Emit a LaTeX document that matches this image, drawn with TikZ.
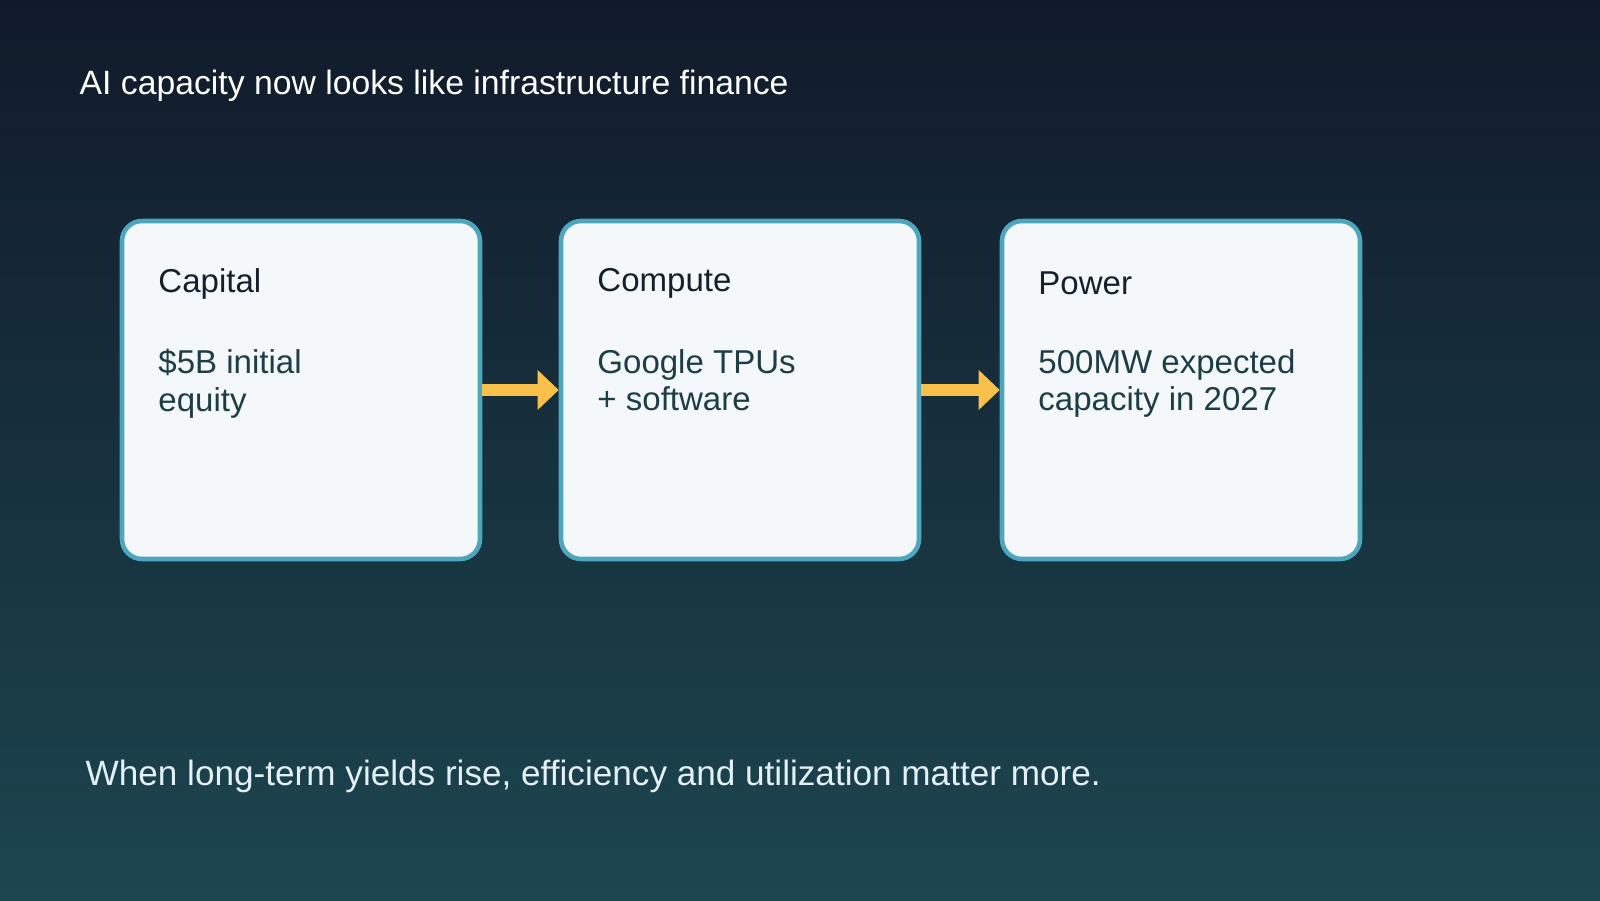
\documentclass[tikz,border=0pt]{standalone}
\usepackage{fontspec}
\setmainfont{Liberation Sans}
\usetikzlibrary{positioning, calc, arrows.meta}
\definecolor{bgtop}{HTML}{111A2A}
\definecolor{bgbot}{HTML}{1C4650}
\definecolor{cardfill}{HTML}{F4F8FB}
\definecolor{cardline}{HTML}{4EA6BD}
\definecolor{flow}{HTML}{F9C04A}
\definecolor{headcol}{HTML}{14202C}
\definecolor{bodycol}{HTML}{1D3D47}
\begin{document}
\begin{tikzpicture}[
card/.style={draw=cardline, line width=1.3pt, fill=cardfill, rounded corners=0.2cm, minimum width=3.58cm, minimum height=3.38cm},
head/.style={text=headcol, font=\fontsize{9.4}{11}\selectfont, anchor=west, inner sep=0pt},
body/.style={text=bodycol, font=\fontsize{9.4}{10.6}\selectfont, anchor=north west, align=left, inner sep=0pt},
flowarrow/.style={flow, line width=3.6pt, -{Triangle[length=6pt,width=11pt]}}]

% background
\shade[top color=bgtop, bottom color=bgbot] (0,0) rectangle (16,9);
\useasboundingbox (0,0) rectangle (16,9);

% title
\node[text=white, font=\fontsize{9.6}{11}\selectfont, anchor=west, inner sep=0pt] (title) at (0.79,8.14) {AI capacity now looks like infrastructure finance};

% cards
\node[card] (cap) at (3.01,5.10) {};
\node[card] (comp) at (7.40,5.10) {};
\node[card] (pow) at (11.81,5.10) {};

\node[head] (capt) at ($(cap.north west)+(0.38,-0.65)$) {Capital};
\node[body] (capb) at ($(cap.north west)+(0.38,-1.30)$) {\$5B initial\\equity};
\node[head] (compt) at ($(comp.north west)+(0.38,-0.65)$) {Compute};
\node[body] (compb) at ($(comp.north west)+(0.38,-1.30)$) {Google TPUs\\+ software};
\node[head] (powt) at ($(pow.north west)+(0.38,-0.65)$) {Power};
\node[body] (powb) at ($(pow.north west)+(0.38,-1.30)$) {500MW expected\\capacity in 2027};

% flow
\draw[flowarrow] (cap.east) -- (comp.west);
\draw[flowarrow] (comp.east) -- (pow.west);

% footer
\node[text=cardfill!90!cardline, font=\fontsize{10}{12}\selectfont, anchor=west, inner sep=0pt] (note) at (0.85,1.24) {When long-term yields rise, efficiency and utilization matter more.};
\end{tikzpicture}
\end{document}
